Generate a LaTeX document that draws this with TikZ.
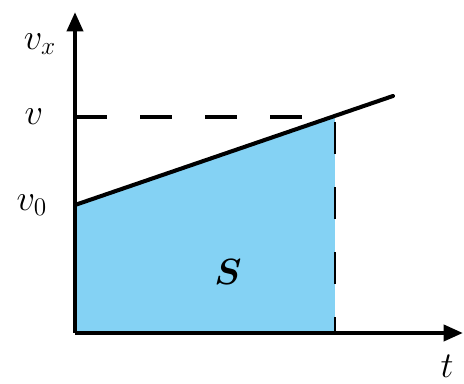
\documentclass[tikz,border=0pt]{standalone}
\usepackage{amsmath}
\usepackage{xcolor}
\usepackage{tikz}
\usetikzlibrary{arrows.meta, positioning}
\definecolor{areablue}{RGB}{132,210,244}

\begin{document}
\begin{tikzpicture}[x=0.02cm, y=0.02cm,
		axis/.style={line width=2.4pt, -{Triangle[length=11pt, width=9pt]}},
		graphline/.style={line width=2.3pt, line cap=round},
		dashline/.style={line width=2.1pt, dash pattern=on 18pt off 19pt},
		vdashline/.style={line width=1.7pt, dash pattern=on 18pt off 19pt, dash phase=-3pt},
		lbl/.style={inner sep=0pt, font=\fontsize{22}{26}\selectfont}]
				\useasboundingbox (-75, -51) rectangle (389, 333);
				% Points:
				\coordinate (O) at (0, 0);
				\coordinate (Ytip) at (0, 321);
				\coordinate (Xtip) at (388, 0);
				\coordinate (V0) at (0, 128);
				\coordinate (Vy) at (0, 216);
				\coordinate (P) at (260, 216);
				\coordinate (Pb) at (260, 0);
				\coordinate (E) at (318, 237);
				% Area:
				\fill[areablue] (O) -- (V0) -- (P) -- (Pb) -- cycle;
				% Lines and axes:
				\draw[dashline] (Vy) -- (P);
				\draw[vdashline] (P) -- (Pb);
				\draw[graphline] (V0) -- (E);
				\draw[axis] (O) -- (Ytip);
				\draw[axis] (O) -- (Xtip);
				% Labels:
				\node[lbl] (vx) at (-35, 289) {$v_x$};
				\node[lbl] (v) at (-41, 216) {$v$};
				\node[lbl] (v0) at (-43, 128) {$v_0$};
				\node[lbl, font=\fontsize{20}{24}\selectfont\bfseries] (S) at (153, 61) {$\boldsymbol{S}$};
				\node[lbl] (t) at (372, -33) {$t$};
			\end{tikzpicture}
\end{document}
